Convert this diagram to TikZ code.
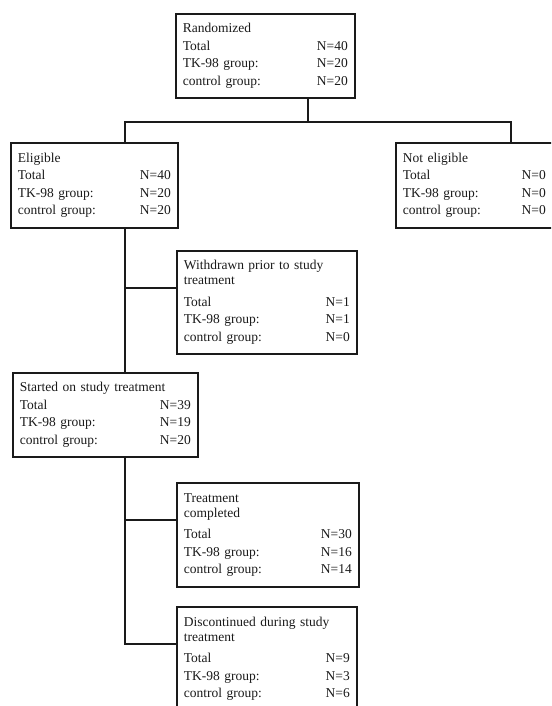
\documentclass[tikz,border=0pt]{standalone}
\usepackage{fontspec}
\setmainfont{Liberation Serif}
\definecolor{ink}{HTML}{1A1A1A}
\newcommand\rw[2]{#1\hfill #2}
\begin{document}
\begin{tikzpicture}[x=1pt,y=-1pt,
  box/.style={draw=ink, line width=1.6pt, anchor=north west, align=left,
    inner xsep=7pt, inner ysep=0pt, text=ink,
    font=\fontsize{13.5}{17.5}\selectfont},
  link/.style={draw=ink, line width=1.6pt}]
\useasboundingbox (0,0) rectangle (551,706);
\clip (0,0) rectangle (551,706);

\node[box, text width=165pt, minimum height=84pt] (rand) at (175,13)
  {Randomized\\ \rw{Total}{N=40}\\ \rw{TK-98 group:}{N=20}\\ \rw{control group:}{N=20}};

\node[box, text width=153pt, minimum height=85pt] (elig) at (10,142)
  {Eligible\\ \rw{Total}{N=40}\\ \rw{TK-98 group:}{N=20}\\ \rw{control group:}{N=20}};

\node[box, text width=143pt, minimum height=85pt] (notelig) at (395,142)
  {Not eligible\\ \rw{Total}{N=0}\\ \rw{TK-98 group:}{N=0}\\ \rw{control group:}{N=0}};

\node[box, text width=166pt, minimum height=103pt] (withdrawn) at (176,250)
  {Withdrawn prior to study\\[-2.5pt] treatment\\[4pt] \rw{Total}{N=1}\\ \rw{TK-98 group:}{N=1}\\ \rw{control group:}{N=0}};

\node[box, text width=171pt, minimum height=84pt] (started) at (12,372)
  {Started on study treatment\\ \rw{Total}{N=39}\\ \rw{TK-98 group:}{N=19}\\ \rw{control group:}{N=20}};

\node[box, text width=168pt, minimum height=104pt] (treat) at (176,482)
  {Treatment\\[-2.5pt] completed\\[4pt] \rw{Total}{N=30}\\ \rw{TK-98 group:}{N=16}\\ \rw{control group:}{N=14}};

\node[box, text width=166pt, minimum height=104pt] (disc) at (176,606)
  {Discontinued during study\\[-2.5pt] treatment\\[4pt] \rw{Total}{N=9}\\ \rw{TK-98 group:}{N=3}\\ \rw{control group:}{N=6}};

% junctions
\coordinate (jr) at (308,122);
\coordinate (jl) at (125,122);
\coordinate (jn) at (511,122);
\path ([yshift=-38pt]withdrawn.north west) coordinate (wb);
\path ([yshift=-38pt]treat.north west) coordinate (tb);
\path ([yshift=-38pt]disc.north west) coordinate (db);

\draw[link] (rand.south -| jr) -- (jr);
\draw[link] (elig.north -| jl) -- (jl) -- (jn) -- (notelig.north -| jn);
\draw[link] (elig.south -| jl) -- (started.north -| jl);
\draw[link] (wb) -- (wb -| jl);
\draw[link] (started.south -| jl) -- (db -| jl) -- (db);
\draw[link] (tb) -- (tb -| jl);
\end{tikzpicture}
\end{document}
